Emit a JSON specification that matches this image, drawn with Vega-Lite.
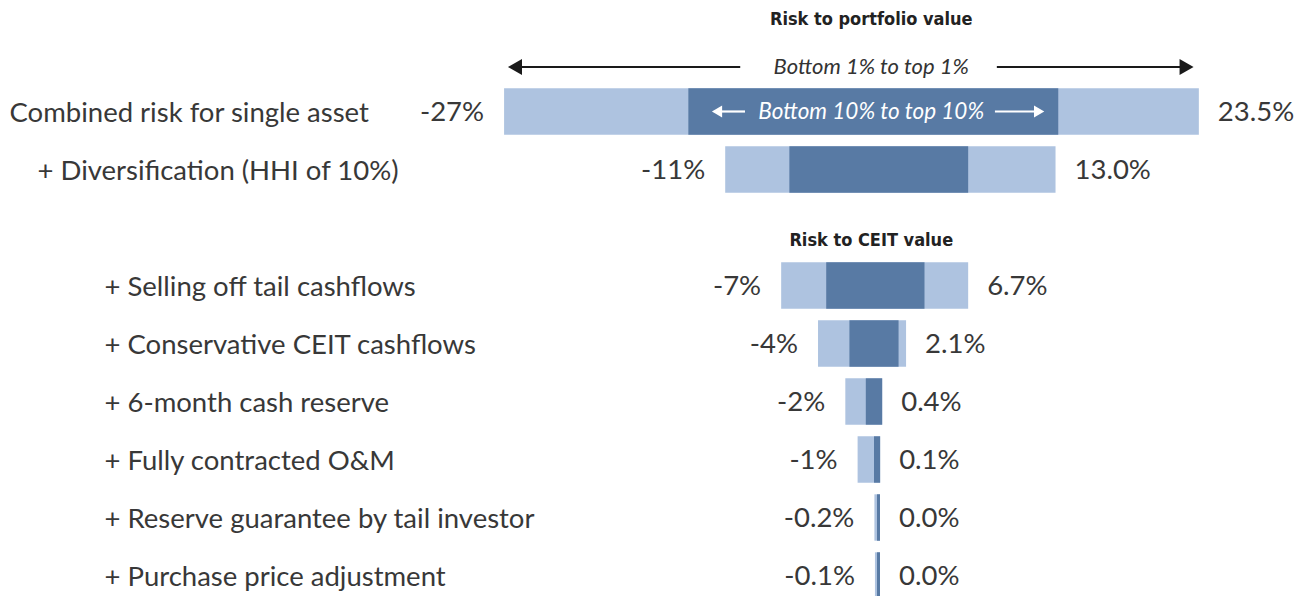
{
  "$schema": "https://vega.github.io/schema/vega-lite/v6.json",
  "width": 883,
  "height": 580,
  "autosize": {"type": "none"},
  "padding": {"left": 420, "top": 24.5, "right": 0, "bottom": 0},
  "background": "white",
  "config": {"view": {"stroke": null}, "font": "Lato"},
  "datasets": {
    "rows": [
      {"item": "Combined risk for single asset", "p1": -27.5, "p10": -14.0, "p90": 13.1, "p99": 23.4, "lowText": "-27%", "highText": "23.5%"},
      {"item": "+ Diversification (HHI of 10%)", "p1": -11.3, "p10": -6.6, "p90": 6.5, "p99": 12.9, "lowText": "-11%", "highText": "13.0%"},
      {"item": "+ Selling off tail cashflows", "p1": -7.2, "p10": -3.9, "p90": 3.3, "p99": 6.5, "lowText": "-7%", "highText": "6.7%"},
      {"item": "+ Conservative CEIT cashflows", "p1": -4.5, "p10": -2.2, "p90": 1.4, "p99": 1.95, "lowText": "-4%", "highText": "2.1%"},
      {"item": "+ 6-month cash reserve", "p1": -2.5, "p10": -1.0, "p90": 0.2, "p99": 0.2, "lowText": "-2%", "highText": "0.4%"},
      {"item": "+ Fully contracted O&M", "p1": -1.6, "p10": -0.4, "p90": 0.05, "p99": 0.05, "lowText": "-1%", "highText": "0.1%"},
      {"item": "+ Reserve guarantee by tail investor", "p1": -0.37, "p10": -0.18, "p90": 0.04, "p99": 0.04, "lowText": "-0.2%", "highText": "0.0%"},
      {"item": "+ Purchase price adjustment", "p1": -0.33, "p10": -0.18, "p90": 0.04, "p99": 0.04, "lowText": "-0.1%", "highText": "0.0%"}
    ],
    "headers": [
      {"item": "Risk to portfolio value", "text": "Risk to portfolio value", "kind": "portfolioTitle", "x": -0.6},
      {"item": "Risk to portfolio value", "text": "Bottom 1% to top 1%", "kind": "outerRange", "x": -0.6},
      {"item": "Combined risk for single asset", "text": "Bottom 10% to top 10%", "kind": "innerRange", "x": -0.6},
      {"item": "Risk to CEIT value", "text": "Risk to CEIT value", "kind": "ceitTitle", "x": -0.6}
    ],
    "arrows": [
      {"item": "Risk to portfolio value", "kind": "outer", "dir": "left", "from": -10.2, "to": -26.7},
      {"item": "Risk to portfolio value", "kind": "outer", "dir": "right", "from": 8.6, "to": 22.5},
      {"item": "Combined risk for single asset", "kind": "inner", "dir": "left", "from": -9.85, "to": -11.9},
      {"item": "Combined risk for single asset", "kind": "inner", "dir": "right", "from": 8.46, "to": 11.7}
    ]
  },
  "encoding": {
    "y": {
      "field": "item",
      "type": "nominal",
      "scale": {
        "domain": ["Risk to portfolio value", "Combined risk for single asset", "+ Diversification (HHI of 10%)", "Risk to CEIT value", "+ Selling off tail cashflows", "+ Conservative CEIT cashflows", "+ 6-month cash reserve", "+ Fully contracted O&M", "+ Reserve guarantee by tail investor", "+ Purchase price adjustment"],
        "paddingInner": 0.2,
        "paddingOuter": 0.1
      },
      "axis": {
        "title": null,
        "domain": false,
        "ticks": false,
        "tickSize": 0,
        "values": ["Combined risk for single asset", "+ Diversification (HHI of 10%)", "+ Selling off tail cashflows", "+ Conservative CEIT cashflows", "+ 6-month cash reserve", "+ Fully contracted O&M", "+ Reserve guarantee by tail investor", "+ Purchase price adjustment"],
        "labelAlign": "left",
        "labelBaseline": "middle",
        "labelFont": "Lato",
        "labelFontSize": 27.5,
        "labelColor": "#383838",
        "labelLimit": 600,
        "labelOffset": 2,
        "labelPadding": {
          "condition": [
            {"test": "datum.value === 'Combined risk for single asset'", "value": 411},
            {"test": "datum.value === '+ Diversification (HHI of 10%)'", "value": 383}
          ],
          "value": 316
        }
      }
    }
  },
  "layer": [
    {
      "data": {"name": "rows"},
      "mark": {"type": "bar", "color": "#aec3e0"},
      "encoding": {
        "x": {"field": "p1", "type": "quantitative", "scale": {"domain": [-33.66, 31.03], "nice": false, "zero": false}, "axis": null},
        "x2": {"field": "p99"}
      }
    },
    {
      "data": {"name": "rows"},
      "mark": {"type": "bar", "color": "#587aa4"},
      "encoding": {
        "x": {"field": "p10", "type": "quantitative"},
        "x2": {"field": "p90"}
      }
    },
    {
      "data": {"name": "rows"},
      "mark": {"type": "text", "align": "right", "baseline": "middle", "dx": -20, "dy": 1, "fontSize": 27.5, "color": "#383838"},
      "encoding": {
        "x": {"field": "p1", "type": "quantitative"},
        "text": {"field": "lowText"}
      }
    },
    {
      "data": {"name": "rows"},
      "mark": {"type": "text", "align": "left", "baseline": "middle", "dx": 19, "dy": 1, "fontSize": 27.5, "color": "#383838"},
      "encoding": {
        "x": {"field": "p99", "type": "quantitative"},
        "text": {"field": "highText"}
      }
    },
    {
      "data": {"name": "arrows"},
      "transform": [{"filter": "datum.kind === 'outer'"}],
      "mark": {"type": "rule", "color": "#1a1a1a", "strokeWidth": 2.2, "yOffset": 13.5},
      "encoding": {
        "x": {"field": "from", "type": "quantitative"},
        "x2": {"field": "to"}
      }
    },
    {
      "data": {"name": "arrows"},
      "transform": [{"filter": "datum.kind === 'outer'"}],
      "mark": {"type": "point", "filled": true, "color": "#1a1a1a", "size": 260, "opacity": 1, "yOffset": 13.5},
      "encoding": {
        "x": {"field": "to", "type": "quantitative"},
        "shape": {"field": "dir", "type": "nominal", "scale": {"domain": ["left", "right"], "range": ["triangle-left", "triangle-right"]}, "legend": null}
      }
    },
    {
      "data": {"name": "arrows"},
      "transform": [{"filter": "datum.kind === 'inner'"}],
      "mark": {"type": "rule", "color": "white", "strokeWidth": 2.2},
      "encoding": {
        "x": {"field": "from", "type": "quantitative"},
        "x2": {"field": "to"}
      }
    },
    {
      "data": {"name": "arrows"},
      "transform": [{"filter": "datum.kind === 'inner'"}],
      "mark": {"type": "point", "filled": true, "color": "white", "size": 140, "opacity": 1},
      "encoding": {
        "x": {"field": "to", "type": "quantitative"},
        "shape": {"field": "dir", "type": "nominal", "legend": null}
      }
    },
    {
      "data": {"name": "headers"},
      "transform": [{"filter": "datum.kind === 'portfolioTitle'"}],
      "mark": {"type": "text", "baseline": "middle", "dy": -33.5, "font": "DejaVu Sans Condensed", "fontWeight": "bold", "fontSize": 18, "color": "#222222"},
      "encoding": {
        "x": {"field": "x", "type": "quantitative"},
        "text": {"field": "text"}
      }
    },
    {
      "data": {"name": "headers"},
      "transform": [{"filter": "datum.kind === 'ceitTitle'"}],
      "mark": {"type": "text", "baseline": "middle", "dy": 13.5, "font": "DejaVu Sans Condensed", "fontWeight": "bold", "fontSize": 18, "color": "#222222"},
      "encoding": {
        "x": {"field": "x", "type": "quantitative"},
        "text": {"field": "text"}
      }
    },
    {
      "data": {"name": "headers"},
      "transform": [{"filter": "datum.kind === 'outerRange'"}],
      "mark": {"type": "text", "baseline": "middle", "dy": 13.5, "fontStyle": "italic", "fontSize": 22, "color": "#333333"},
      "encoding": {
        "x": {"field": "x", "type": "quantitative"},
        "text": {"field": "text"}
      }
    },
    {
      "data": {"name": "headers"},
      "transform": [{"filter": "datum.kind === 'innerRange'"}],
      "mark": {"type": "text", "baseline": "middle", "fontStyle": "italic", "fontSize": 22.5, "color": "white"},
      "encoding": {
        "x": {"field": "x", "type": "quantitative"},
        "text": {"field": "text"}
      }
    }
  ]
}
